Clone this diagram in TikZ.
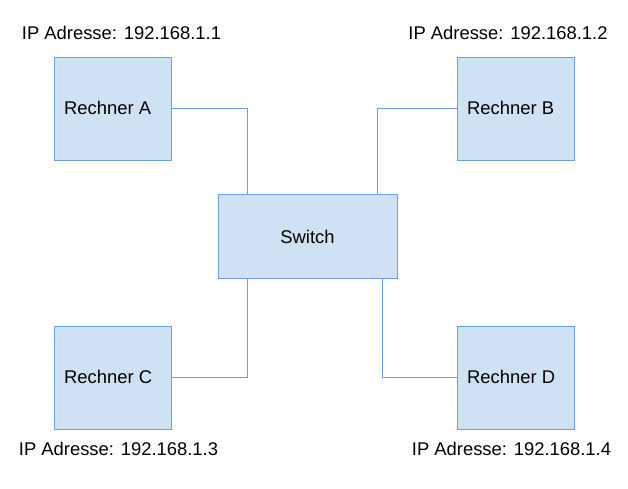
\documentclass[tikz,border=0pt]{standalone}
\usepackage{fontspec}
\setmainfont{Liberation Sans}
\definecolor{boxfill}{HTML}{CFE2F3}
\definecolor{boxline}{HTML}{6D9EEB}
\begin{document}
\begin{tikzpicture}[x=1pt,y=-1pt,
  font=\fontsize{18.4}{22}\selectfont,
  pc/.style={draw=boxline,fill=boxfill,line width=0.9pt,minimum width=117pt,minimum height=103pt,anchor=north west,inner sep=0pt},
  link/.style={draw=boxline,line width=0.9pt},
  lbl/.style={inner sep=0pt,anchor=center}]
\useasboundingbox (0,0) rectangle (628,489);
\node[pc] (A) at (54,57) {};
\node[pc] (B) at (457,57) {};
\node[pc] (C) at (54,326) {};
\node[pc] (D) at (457,326) {};
\node[pc,minimum width=179pt,minimum height=84pt] (S) at (218,194) {};
\node[lbl,anchor=west] (tA) at (64,108) {Rechner A};
\node[lbl,anchor=west] (tB) at (467,108) {Rechner B};
\node[lbl,anchor=west] (tC) at (64,377) {Rechner C};
\node[lbl,anchor=west] (tD) at (467,377) {Rechner D};
\node[lbl] (tS) at (307.5,237) {Switch};
\node[lbl] (ipA) at (121.5,33) {IP Adresse: 192.168.1.1};
\node[lbl] (ipB) at (508,33) {IP Adresse: 192.168.1.2};
\node[lbl] (ipC) at (118.5,449) {IP Adresse: 192.168.1.3};
\node[lbl] (ipD) at (511.5,449) {IP Adresse: 192.168.1.4};
\coordinate (sA) at (247,194);
\coordinate (sB) at (377,194);
\coordinate (sC) at (247,278);
\coordinate (sD) at (382,278);
\draw[link] (A.east |- 0,108) -| (sA);
\draw[link] (B.west |- 0,108) -| (sB);
\draw[link] (C.east |- 0,377) -| (sC);
\draw[link] (D.west |- 0,377) -| (sD);
\end{tikzpicture}
\end{document}
